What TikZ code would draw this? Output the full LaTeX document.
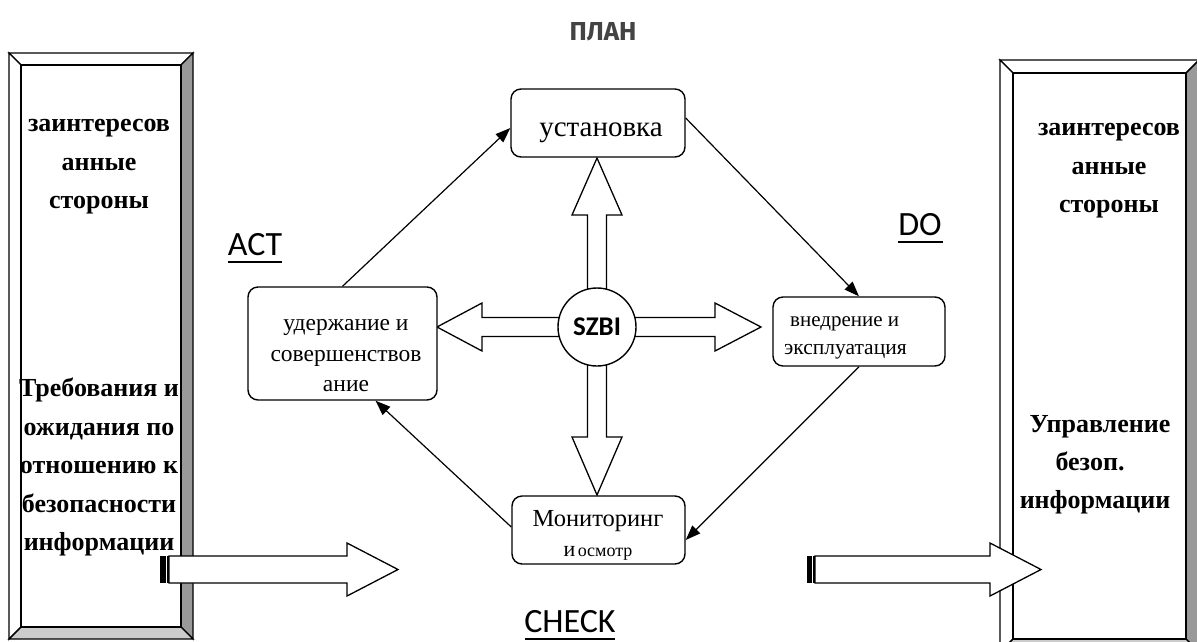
\documentclass[tikz,border=0pt]{standalone}
\usepackage{fontspec}
\setmainfont{Liberation Serif}
\newfontfamily\calfont{Carlito}
\newfontfamily\planfont{Fira Sans}
\usetikzlibrary{arrows.meta,calc}
\definecolor{bevdark}{HTML}{999999}
\definecolor{bevlight}{HTML}{CCCCCC}
\definecolor{plangray}{HTML}{444444}
\tikzset{
  rbox/.style={draw, line width=1.4pt, rounded corners=10pt, fill=white, inner sep=0pt},
  boxtext/.style={inner sep=0pt, align=center},
  conn/.style={line width=1.2pt, -{Triangle[length=15pt,width=11pt]}},
  blockar/.style={draw, line width=1.3pt, fill=white, line join=miter},
  bevline/.style={draw=black, line width=1.4pt, line join=miter},
  sidetext/.style={align=center, font=\fontsize{26}{38.5}\selectfont\bfseries, inner sep=0pt},
  labtext/.style={font=\calfont\fontsize{34}{40}\selectfont, inner sep=0pt},
}
\newcommand{\bevelbox}[5]{% x1 y1 x2 y2 d
  \fill[white,bevline] (#1,#2) -- (#3,#2) -- (#3-#5,#2+#5) -- (#1+#5,#2+#5) -- cycle;
  \fill[white,bevline] (#1,#2) -- (#1+#5,#2+#5) -- (#1+#5,#4-#5) -- (#1,#4) -- cycle;
  \fill[bevdark,bevline] (#3,#2) -- (#3,#4) -- (#3-#5,#4-#5) -- (#3-#5,#2+#5) -- cycle;
  \fill[bevlight,bevline] (#1,#4) -- (#1+#5,#4-#5) -- (#3-#5,#4-#5) -- (#3,#4) -- cycle;
  \draw[bevline, fill=white] (#1+#5,#2+#5) rectangle (#3-#5,#4-#5);
}
\begin{document}
\begin{tikzpicture}[x=1pt,y=-1pt]
\useasboundingbox (0,0) rectangle (1197,641);
\fill[white] (0,0) rectangle (1197,641);

% side bevel boxes
\bevelbox{9}{53}{193}{639}{12}
\bevelbox{1000}{60}{1199}{652}{13}

\node[sidetext] (lt1) at (99,167) {заинтересов\\анные\\стороны};
\node[sidetext] (lt2) at (99,467) {Требования и\\ожидания по\\отношению к\\безопасности\\информации};
\node[sidetext] (rt1) at (1109,171) {заинтересов\\анные\\стороны};
\node[sidetext] (rt2a) at (1100,427) {Управление};
\node[sidetext] (rt2b) at (1090,461) {безоп.};
\node[sidetext] (rt2c) at (1095,502) {информации};

% title and labels
\node[font=\planfont\fontsize{26}{30}\selectfont\bfseries, text=plangray, inner sep=0pt] (plan) at (603,32) {ПЛАН};
\node[labtext] (act) at (255,245) {ACT};
\draw[line width=1.6pt] (228,262) -- (282,262);
\node[labtext] (do) at (920,225) {DO};
\draw[line width=1.6pt] (898,242) -- (943,242);
\node[labtext] (check) at (570,622) {CHECK};
\draw[line width=1.6pt] (525,639) -- (615,639);

% central block arrows
\draw[blockar] (587.5,300) -- (587.5,215) -- (572,215) -- (597,158) -- (622,215) -- (606.5,215) -- (606.5,300) -- cycle;
\draw[blockar] (587.5,350) -- (587.5,437) -- (572,437) -- (597,495) -- (622,437) -- (606.5,437) -- (606.5,350) -- cycle;
\draw[blockar] (620,317.5) -- (715,317.5) -- (715,303) -- (761,327) -- (715,351) -- (715,336.5) -- (620,336.5) -- cycle;
\draw[blockar] (575,317.5) -- (482,317.5) -- (482,303) -- (437,327) -- (482,351) -- (482,336.5) -- (575,336.5) -- cycle;

\node[circle, draw, line width=1.4pt, fill=white, minimum size=78pt, inner sep=0pt,
      font=\calfont\fontsize{27}{30}\selectfont\bfseries] (szbi) at (597,327) {SZBI};

% rounded process boxes
\node[rbox, minimum width=174pt, minimum height=68pt] (ust) at (598,123) {};
\node[boxtext, font=\fontsize{29}{32}\selectfont] (ustt) at (601,133) {установка};

\node[rbox, minimum width=189pt, minimum height=113pt] (udr) at (342.5,343.5) {};
\node[boxtext, font=\fontsize{23.5}{30.5}\selectfont] (udrt) at (346,356) {удержание и\\совершенствов\\ание};

\node[rbox, minimum width=172pt, minimum height=69pt] (vn) at (859,331.5) {};
\node[boxtext, anchor=west, font=\fontsize{21}{21}\selectfont] (vnt1) at (790,324) {внедрение и};
\node[boxtext, anchor=west, font=\fontsize{21.5}{21}\selectfont] (vnt2) at (784,352) {эксплуатация};

\node[rbox, minimum width=173pt, minimum height=68pt] (mon) at (598.5,530) {};
\node[boxtext, font=\fontsize{24.5}{26}\selectfont] (mont1) at (598,521) {Мониторинг};
\node[boxtext] (mont2) at (598,553) {{\fontsize{22}{24}\selectfont и} {\fontsize{18}{24}\selectfont осмотр}};

% cycle connectors
\draw[conn] (udr.north) -- ([yshift=-5pt]ust.west);
\draw[conn] ([yshift=5pt]ust.east) -- (vn.north);
\draw[conn] (vn.south) -- ([yshift=-10pt]mon.east);
\draw[conn] ([yshift=3pt]mon.west) -- ([xshift=33pt]udr.south);

% bottom block arrows
\fill[black] (160,556) rectangle (166,583);
\draw[line width=1.6pt] (168,556) -- (168,583);
\draw[blockar] (169,556) -- (347,556) -- (347,543) -- (398,569.5) -- (347,596) -- (347,583) -- (169,583) -- cycle;

\fill[black] (807,556) rectangle (812,583);
\draw[line width=1.6pt] (814,556) -- (814,583);
\draw[blockar] (815,556) -- (990,556) -- (990,543) -- (1041,569.5) -- (990,596) -- (990,583) -- (815,583) -- cycle;
\end{tikzpicture}
\end{document}
